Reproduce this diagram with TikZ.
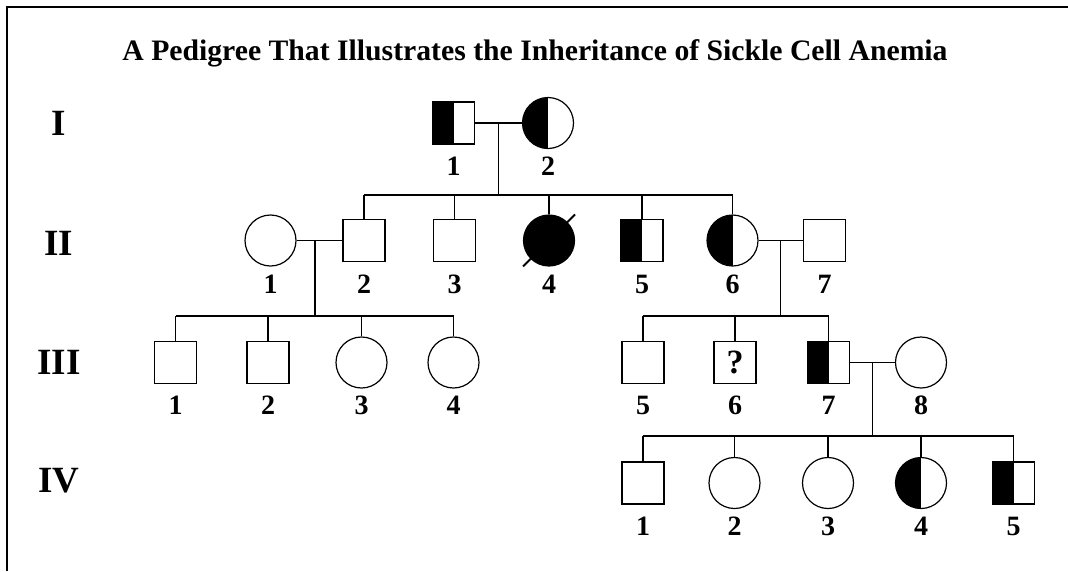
\documentclass[tikz,border=0pt]{standalone}
\usepackage{fontspec}
\setmainfont{Liberation Serif}
\usetikzlibrary{calc}
\begin{document}
\begin{tikzpicture}[x=1pt,y=-1pt,
 person/.style={draw, line width=1.2pt, inner sep=0pt, font=\fontsize{34}{34}\selectfont\bfseries},
 male/.style={person, rectangle, minimum size=42pt},
 female/.style={person, circle, minimum size=51pt},
 carrier/.style={path picture={\fill[black] (path picture bounding box.south west) rectangle (path picture bounding box.north);}},
 num/.style={font=\fontsize{28}{28}\selectfont\bfseries, inner sep=0pt, anchor=base},
 gen/.style={font=\fontsize{37}{37}\selectfont\bfseries, inner sep=0pt},
 link/.style={line width=1.2pt},
]
\useasboundingbox (0,0) rectangle (1068,571);
\fill[white] (0,0) rectangle (1068,571);
\draw[line width=1.5pt] (7,571) -- (7,7) -- (1068,7);

\node[font=\fontsize{29.7}{30}\selectfont\bfseries, anchor=base, inner sep=0pt] (title) at (535,60) {A Pedigree That Illustrates the Inheritance of Sickle Cell Anemia};

% generation labels
\node[gen] (gI) at (59,123) {I};
\node[gen] (gII) at (59,243) {II};
\node[gen] (gIII) at (59,362) {III};
\node[gen] (gIV) at (59,481) {IV};

% generation I
\node[male, carrier] (I1) at (453.5,123) {};
\node[female, carrier] (I2) at (548,123) {};
\node[num] (nI1) at (453.5,175.5) {1};
\node[num] (nI2) at (548,175.5) {2};

% generation II
\node[female] (II1) at (270.5,240.5) {};
\node[male] (II2) at (364,240.5) {};
\node[male] (II3) at (454.5,240.5) {};
\node[female, fill=black] (II4) at (549,240.5) {};
\node[male, carrier] (II5) at (642,240.5) {};
\node[female, carrier] (II6) at (732.5,240.5) {};
\node[male] (II7) at (824.5,240.5) {};
\foreach \n/\x in {1/270.5,2/364,3/454.5,4/549,5/642,6/732.5,7/824.5}
  \node[num] (nII\n) at (\x,293) {\n};
\coordinate (sl1) at ($(II4.center)+(-26,26)$);
\coordinate (sl2) at ($(II4.center)+(26,-26)$);
\draw[line width=2pt] (sl1) -- (sl2);

% generation III
\node[male] (III1) at (175.5,362.5) {};
\node[male] (III2) at (268,362.5) {};
\node[female] (III3) at (361.5,362.5) {};
\node[female] (III4) at (453.5,362.5) {};
\node[male] (III5) at (643,362.5) {};
\node[male] (III6) at (735,362.5) {?};
\node[male, carrier] (III7) at (828.5,362.5) {};
\node[female] (III8) at (921,362.5) {};
\foreach \n/\x in {1/175.5,2/268,3/361.5,4/453.5,5/643,6/735,7/828.5,8/921}
  \node[num] (nIII\n) at (\x,414.5) {\n};

% generation IV
\node[male] (IV1) at (643,483) {};
\node[female] (IV2) at (734.5,483) {};
\node[female] (IV3) at (828,483) {};
\node[female, carrier] (IV4) at (921,483) {};
\node[male, carrier] (IV5) at (1013.5,483) {};
\foreach \n/\x in {1/643,2/734.5,3/828,4/921,5/1013.5}
  \node[num] (nIV\n) at (\x,535) {\n};

% matings and descent
\coordinate (mI) at ($(I1.east)!0.5!(I2.west)$);
\coordinate (sI) at (mI |- 0,195);
\draw[link] (I1.east) -- (I2.west);
\draw[link] (mI) -- (sI);
\draw[link] (II2.north |- sI) -- (II6.north |- sI);
\foreach \c in {II2,II3,II4,II5,II6} \draw[link] (\c.north) -- (\c.north |- sI);

\coordinate (mIIa) at (315,240.5);
\coordinate (sIIa) at (315,316);
\draw[link] (II1.east) -- (II2.west);
\draw[link] (mIIa) -- (sIIa);
\draw[link] (III1.north |- sIIa) -- (III4.north |- sIIa);
\foreach \c in {III1,III2,III3,III4} \draw[link] (\c.north) -- (\c.north |- sIIa);

\coordinate (mIIb) at ($(II6.east)!0.5!(II7.west)$);
\coordinate (sIIb) at (mIIb |- 0,316);
\draw[link] (II6.east) -- (II7.west);
\draw[link] (mIIb) -- (sIIb);
\draw[link] (III5.north |- sIIb) -- (III7.north |- sIIb);
\foreach \c in {III5,III6,III7} \draw[link] (\c.north) -- (\c.north |- sIIb);

\coordinate (mIII) at ($(III7.east)!0.5!(III8.west)$);
\coordinate (sIII) at (mIII |- 0,436);
\draw[link] (III7.east) -- (III8.west);
\draw[link] (mIII) -- (sIII);
\draw[link] (IV1.north |- sIII) -- (IV5.north |- sIII);
\foreach \c in {IV1,IV2,IV3,IV4,IV5} \draw[link] (\c.north) -- (\c.north |- sIII);
\end{tikzpicture}
\end{document}
